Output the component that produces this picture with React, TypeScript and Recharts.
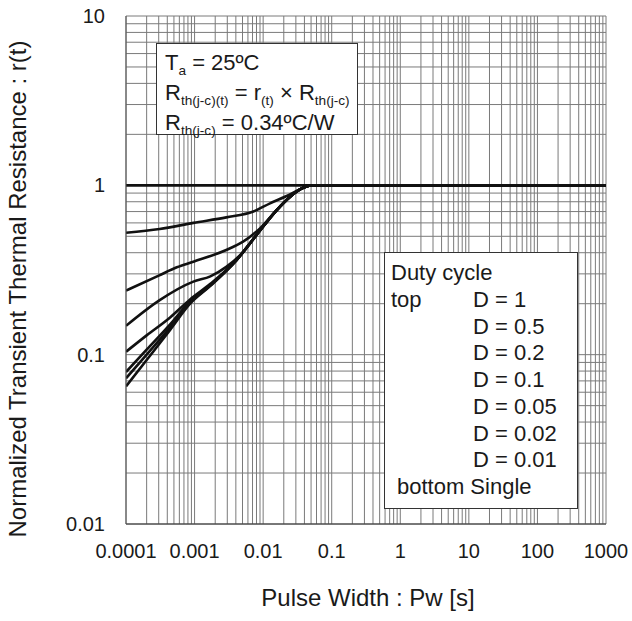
import { LineChart, Line, XAxis, YAxis, CartesianGrid } from "recharts";

// pulse width [s] vs normalized transient thermal resistance r(t)
const dutyOne = [[1e-4, 1], [1000, 1]];
const duty05 = [[1e-4, 0.525], [3.1e-4, 0.552], [9.6e-4, 0.6], [2.9e-3, 0.647], [7.2e-3, 0.7], [0.0126, 0.783], [0.022, 0.865], [0.035, 0.95], [0.05, 1], [1000, 1]];
const duty02 = [[1e-4, 0.239], [3e-4, 0.293], [5.5e-4, 0.328], [9.6e-4, 0.354], [2.9e-3, 0.415], [5.1e-3, 0.465], [9e-3, 0.557], [0.0158, 0.715], [0.025, 0.86], [0.035, 0.95], [0.05, 1], [1000, 1]];
const duty01 = [[1e-4, 0.148], [3.1e-4, 0.21], [9.6e-4, 0.27], [1.7e-3, 0.29], [2.9e-3, 0.33], [5e-3, 0.4], [8e-3, 0.509], [0.0158, 0.715], [0.025, 0.86], [0.035, 0.95], [0.05, 1], [1000, 1]];
const duty005 = [[1e-4, 0.104], [2e-4, 0.13], [4.4e-4, 0.166], [8.6e-4, 0.212], [1.7e-3, 0.262], [4.1e-3, 0.363], [8e-3, 0.509], [0.0158, 0.715], [0.025, 0.86], [0.035, 0.95], [0.05, 1], [1000, 1]];
const duty002 = [[1e-4, 0.079], [2e-4, 0.107], [4.4e-4, 0.151], [8.6e-4, 0.207], [1.7e-3, 0.258], [4.1e-3, 0.362], [8e-3, 0.509], [0.0158, 0.715], [0.025, 0.86], [0.035, 0.95], [0.05, 1], [1000, 1]];
const duty001 = [[1e-4, 0.0725], [2e-4, 0.1], [4.4e-4, 0.145], [8.6e-4, 0.203], [1.7e-3, 0.256], [4.1e-3, 0.362], [8e-3, 0.509], [0.0158, 0.715], [0.025, 0.86], [0.035, 0.95], [0.05, 1], [1000, 1]];
const singlePulse = [[1e-4, 0.065], [2e-4, 0.093], [4.4e-4, 0.14], [8.6e-4, 0.2], [1.7e-3, 0.255], [4.1e-3, 0.362], [8e-3, 0.509], [0.0158, 0.715], [0.025, 0.86], [0.035, 0.95], [0.05, 1], [1000, 1]];

const seriesList = [dutyOne, duty05, duty02, duty01, duty005, duty002, duty001, singlePulse];

const xMajorTicks = [0.0001, 0.001, 0.01, 0.1, 1, 10, 100, 1000];
const yMajorTicks = [0.01, 0.1, 1, 10];
const minorSteps = [1, 2, 3, 4, 5, 6, 7, 8, 9];

const dutyLabels = ["D = 1", "D = 0.5", "D = 0.2", "D = 0.1", "D = 0.05", "D = 0.02", "D = 0.01"];

// grid lines at 1..9 of every decade
const withMinors = (majors: number[]) =>
  majors
    .slice(0, -1)
    .flatMap((v) => minorSteps.map((m) => +(v * m).toPrecision(3)))
    .concat(majors[majors.length - 1]);

const xGridTicks = withMinors(xMajorTicks);
const yGridTicks = withMinors(yMajorTicks);

const FONT = '"Liberation Sans", Arial, sans-serif';
const INK = "#1a1a1a";

const XTick = ({ x, y, payload }: any) => {
  if (!xMajorTicks.includes(payload.value)) return <g />;
  return (
    <text x={x} y={y + 34} textAnchor="middle" fontSize={20} fill={INK} fontFamily={FONT}>
      {String(payload.value)}
    </text>
  );
};

const YTick = ({ x, y, payload }: any) => {
  if (!yMajorTicks.includes(payload.value)) return <g />;
  return (
    <text x={x - 21} y={y + 7} textAnchor="end" fontSize={20} fill={INK} fontFamily={FONT}>
      {String(payload.value)}
    </text>
  );
};

const Sub = ({ children }: any) => (
  <span style={{ fontSize: "0.62em", position: "relative", top: "0.38em" }}>{children}</span>
);

export default function App() {
  return (
    <div style={{ position: "relative", width: 632, height: 621, background: "#fff", fontFamily: FONT, color: INK }}>
      <style>{"body{margin:0}"}</style>
      <LineChart width={632} height={621} margin={{ top: 16, right: 26, bottom: 57, left: 66 }}>
        <CartesianGrid stroke="#7a7a7a" strokeWidth={1} />
        <XAxis
          type="number"
          dataKey="t"
          scale="log"
          domain={[1e-4, 1000]}
          allowDataOverflow
          ticks={xGridTicks}
          interval={0}
          height={40}
          tickSize={0}
          tickMargin={0}
          tickLine={false}
          axisLine={{ stroke: "#333" }}
          tick={<XTick />}
        />
        <YAxis
          type="number"
          dataKey="r"
          scale="log"
          domain={[0.01, 10]}
          allowDataOverflow
          ticks={yGridTicks}
          interval={0}
          width={60}
          tickSize={0}
          tickMargin={0}
          tickLine={false}
          axisLine={{ stroke: "#555" }}
          tick={<YTick />}
        />
        {seriesList.map((s, i) => (
          <Line
            key={i}
            data={s.map(([t, r]) => ({ t, r }))}
            dataKey="r"
            type="monotone"
            stroke="#111"
            strokeWidth={2.6}
            dot={false}
            isAnimationActive={false}
          />
        ))}
      </LineChart>

      <div
        style={{
          position: "absolute",
          left: 18,
          top: 289,
          transform: "translate(-50%, -50%) rotate(-90deg)",
          whiteSpace: "nowrap",
          fontSize: 24,
        }}
      >
        Normalized Transient Thermal Resistance : r(t)
      </div>
      <div
        style={{
          position: "absolute",
          left: 368,
          top: 598,
          transform: "translate(-50%, -50%)",
          whiteSpace: "nowrap",
          fontSize: 24,
        }}
      >
        Pulse Width : Pw [s]
      </div>

      <div
        style={{
          position: "absolute",
          left: 156,
          top: 43,
          width: 202,
          height: 92,
          boxSizing: "border-box",
          border: "1.5px solid #333",
          background: "#fff",
          padding: "5px 0 0 8px",
          fontSize: 22,
          lineHeight: "27px",
          whiteSpace: "nowrap",
        }}
      >
        <div>
          T<Sub>a</Sub> = 25ºC
        </div>
        <div>
          R<Sub>th(j-c)(t)</Sub> = r<Sub>(t)</Sub> × R<Sub>th(j-c)</Sub>
        </div>
        <div>
          R<Sub>th(j-c)</Sub> = 0.34ºC/W
        </div>
      </div>

      <div
        style={{
          position: "absolute",
          left: 384,
          top: 252,
          width: 194,
          height: 257,
          boxSizing: "border-box",
          border: "1.5px solid #333",
          background: "#fff",
          padding: "7px 0 0 6px",
          fontSize: 22,
          lineHeight: "26.75px",
          whiteSpace: "nowrap",
        }}
      >
        <div>Duty cycle</div>
        {dutyLabels.map((d, i) => (
          <div key={d} style={{ display: "flex" }}>
            <span style={{ width: 82 }}>{i === 0 ? "top" : ""}</span>
            <span>{d}</span>
          </div>
        ))}
        <div style={{ paddingLeft: 6 }}>bottom Single</div>
      </div>
    </div>
  );
}
